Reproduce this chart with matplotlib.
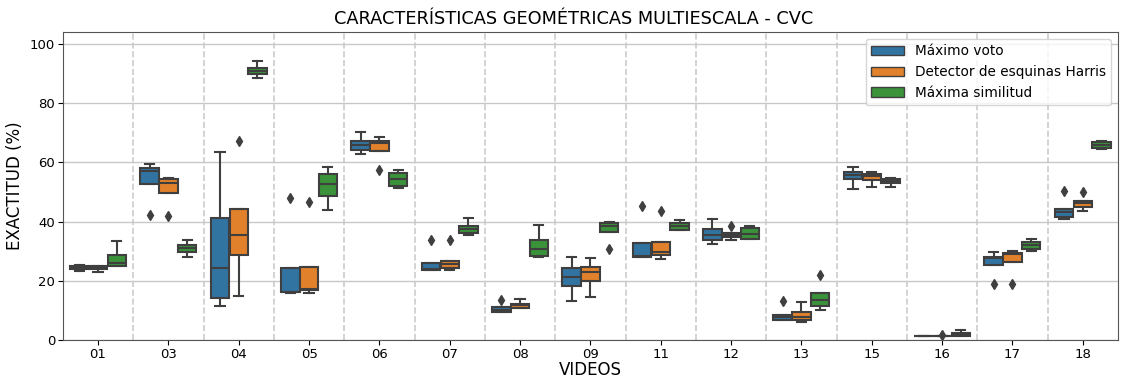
import matplotlib
matplotlib.use("Agg")
import matplotlib.pyplot as plt
from matplotlib.patches import Patch

videos = ["01", "03", "04", "05", "06", "07", "08", "09", "11", "12", "13", "15", "16", "17", "18"]
metodos = ["Máximo voto", "Detector de esquinas Harris", "Máxima similitud"]
colores = ["#3274a1", "#e1812c", "#3a923a"]

# Estadísticos por vídeo: (bigote inf, Q1, mediana, Q3, bigote sup)
voto_stats = [
    (23.3, 23.8, 24.3, 24.9, 25.2),
    (52.7, 52.7, 57.0, 58.1, 59.3),
    (11.5, 14.1, 24.4, 41.2, 63.4),
    (15.9, 16.1, 16.3, 24.4, 24.4),
    (62.7, 64.3, 65.9, 67.3, 70.2),
    (23.5, 23.6, 24.0, 26.0, 26.0),
    (9.6, 9.6, 10.0, 11.0, 11.0),
    (13.0, 18.1, 21.4, 24.4, 27.9),
    (27.9, 28.1, 28.4, 32.9, 32.9),
    (32.4, 33.9, 35.5, 37.4, 40.9),
    (6.6, 6.6, 7.7, 8.5, 8.5),
    (51.0, 54.2, 55.6, 56.6, 58.3),
    (1.3, 1.3, 1.4, 1.5, 1.5),
    (25.3, 25.3, 27.7, 27.9, 29.7),
    (40.8, 41.5, 43.3, 44.3, 44.3),
]
harris_stats = [
    (22.9, 24.0, 24.5, 24.9, 24.9),
    (49.5, 49.5, 53.1, 54.2, 54.6),
    (14.7, 28.8, 35.4, 44.3, 44.3),
    (16.0, 17.0, 17.3, 24.7, 24.7),
    (63.8, 63.8, 66.6, 67.2, 68.4),
    (23.7, 24.3, 25.7, 26.8, 26.8),
    (10.9, 10.9, 11.8, 12.2, 13.8),
    (14.5, 20.0, 23.0, 24.8, 27.7),
    (27.3, 28.6, 29.7, 33.2, 33.2),
    (33.9, 34.7, 35.4, 36.1, 36.1),
    (5.9, 6.6, 7.9, 9.3, 12.8),
    (51.8, 54.1, 55.2, 56.2, 56.7),
    (1.4, 1.4, 1.4, 1.4, 1.4),
    (26.3, 26.3, 29.0, 29.3, 29.9),
    (43.6, 45.0, 46.3, 46.9, 46.9),
]
similitud_stats = [
    (25.1, 25.1, 26.1, 28.7, 33.4),
    (27.9, 29.7, 31.0, 32.2, 33.8),
    (88.5, 89.8, 90.9, 91.8, 94.1),
    (44.0, 48.5, 52.7, 56.0, 58.3),
    (51.4, 52.0, 54.2, 56.4, 57.3),
    (35.6, 36.2, 37.5, 38.5, 41.2),
    (27.9, 28.5, 30.6, 33.8, 38.7),
    (36.6, 36.6, 38.5, 39.4, 40.0),
    (37.3, 37.3, 38.4, 39.5, 40.6),
    (34.2, 34.2, 35.7, 37.8, 38.5),
    (10.2, 11.6, 13.6, 15.8, 15.8),
    (51.8, 53.0, 53.6, 54.2, 54.8),
    (1.3, 1.3, 1.8, 2.5, 3.5),
    (30.0, 30.7, 32.0, 33.2, 34.1),
    (64.5, 64.7, 65.7, 66.7, 67.3),
]

# Valores atípicos por vídeo
voto_atipicos = [[], [42.3], [], [48.1], [], [33.7], [13.4], [], [45.4], [], [13.0], [], [], [19.0], [50.3]]
harris_atipicos = [[], [41.9], [67.3], [46.6], [57.5], [33.7], [], [], [43.6], [38.5], [], [], [1.7], [19.0], [49.8]]
similitud_atipicos = [[], [], [], [], [], [], [], [30.7], [], [], [21.9], [], [], [], []]

series = [
    (voto_stats, voto_atipicos),
    (harris_stats, harris_atipicos),
    (similitud_stats, similitud_atipicos),
]

plt.rcParams.update({
    "font.family": "DejaVu Sans",
    "axes.edgecolor": "#555555",
})

fig, ax = plt.subplots(figsize=(11.23, 3.79), dpi=100)
fig.subplots_adjust(left=0.056, right=0.9955, top=0.9156, bottom=0.103)

gris = "#3f3f3f"
ancho = 0.8 / 3
for k, ((stats, atipicos), color) in enumerate(zip(series, colores)):
    desplaz = (k - 1) * ancho
    bxp = []
    for (lo, q1, med, q3, hi), fl in zip(stats, atipicos):
        bxp.append({"whislo": lo, "q1": q1, "med": med, "q3": q3,
                    "whishi": hi, "fliers": fl})
    pos = [i + desplaz for i in range(len(videos))]
    ax.bxp(bxp, positions=pos, widths=ancho * 0.98, patch_artist=True,
           showfliers=True, manage_ticks=False,
           boxprops=dict(facecolor=color, edgecolor=gris, linewidth=1.5),
           medianprops=dict(color=gris, linewidth=1.5),
           whiskerprops=dict(color=gris, linewidth=1.5),
           capprops=dict(color=gris, linewidth=1.5),
           flierprops=dict(marker="d", markerfacecolor=gris, markeredgecolor=gris,
                           markersize=5))

ax.set_xticks(range(len(videos)))
ax.set_xticklabels(videos)
ax.set_xlim(-0.5, len(videos) - 0.5)
ax.set_ylim(0, 104)
ax.set_yticks([0, 20, 40, 60, 80, 100])
ax.tick_params(labelsize=9.5, pad=2)
ax.yaxis.grid(True, color="#c8c8c8", linewidth=1)
ax.set_axisbelow(True)
for i in range(len(videos) - 1):
    ax.axvline(i + 0.5, color="#cccccc", linestyle="--", linewidth=1.2, zorder=0)

ax.set_title("CARACTERÍSTICAS GEOMÉTRICAS MULTIESCALA - CVC", fontsize=12.8, x=0.484)
ax.set_xlabel("VIDEOS", fontsize=12, labelpad=0)
ax.set_ylabel("EXACTITUD (%)", fontsize=12)

handles = [Patch(facecolor=c, edgecolor=gris, label=m) for c, m in zip(colores, metodos)]
ax.legend(handles=handles, loc="upper right", fontsize=9.8, handlelength=2.4)

fig.savefig("out.png", dpi=100)
